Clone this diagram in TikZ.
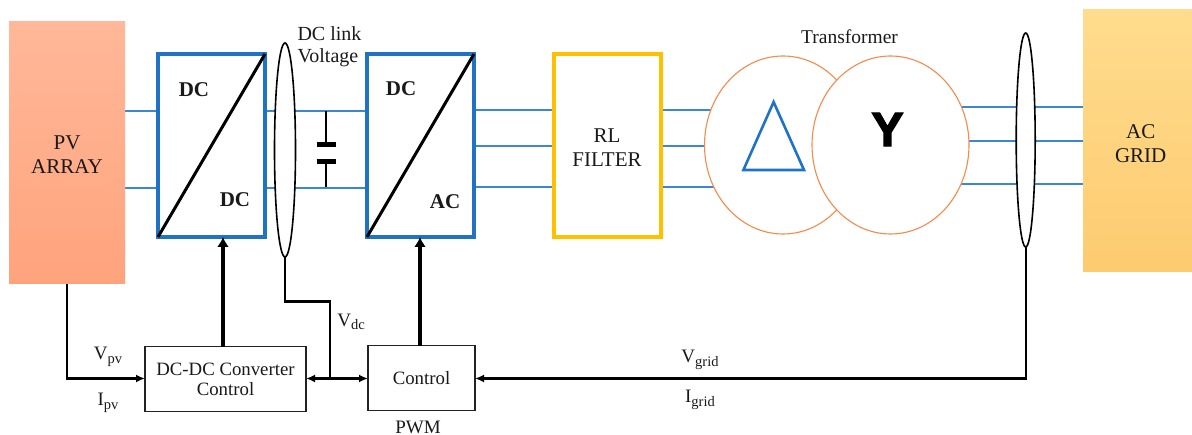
\documentclass[tikz,border=0pt]{standalone}
\usepackage{fontspec}
\setmainfont{Liberation Serif}
\newfontfamily\sansbold{Liberation Sans}[Scale=1]
\usetikzlibrary{shapes.geometric,arrows.meta,backgrounds}
\definecolor{pvtop}{HTML}{FFB899}
\definecolor{pvbot}{HTML}{FFA37C}
\definecolor{gridtop}{HTML}{FFDC8E}
\definecolor{gridbot}{HTML}{FDCB70}
\definecolor{bluebox}{HTML}{1F72C4}
\definecolor{blueline}{HTML}{3C88D0}
\definecolor{filterc}{HTML}{FFC000}
\definecolor{transc}{HTML}{F58A4B}
\definecolor{boxline}{HTML}{222222}
\newcommand{\fs}[1]{\fontsize{#1}{#1}\selectfont}
\newcommand{\subt}[1]{\raisebox{-3.5pt}{\fs{14.5}#1}}
\tikzset{
  x=1pt,y=-1pt,
  base/.style={inner sep=0pt,outer sep=0pt,align=center,text=black!90},
  label19/.style={base,font=\fs{19}},
  label21/.style={base,font=\fs{21}},
  tag/.style={base,font=\fs{21}\bfseries},
  source/.style={base,font=\fs{21},minimum width=#1},
  conv/.style={base,draw=bluebox,line width=3.5pt,fill=white,minimum width=107pt,minimum height=183pt},
  filterbox/.style={base,draw=filterc,line width=3.5pt,fill=white,minimum width=107pt,minimum height=183pt},
  ctrl/.style={base,draw=boxline,line width=1.2pt,fill=white,font=\fs{18.8}},
  lens/.style={base,ellipse,draw=black,line width=1.6pt,fill=white},
  winding/.style={base,ellipse,draw=transc,line width=1.1pt,fill=white,minimum width=157pt,minimum height=178pt},
  phase/.style={blueline,line width=1.7pt},
  diag/.style={black,line width=3pt},
  sense/.style={black,line width=2.4pt},
  tip/.style={-{Latex[length=9pt,width=8pt]}},
  drive/.style={black,line width=4pt,-{Latex[length=10pt,width=12pt]}},
  plate/.style={black,line width=5pt},
  wire/.style={black,line width=1.5pt}
}
\begin{document}
\begin{tikzpicture}
\useasboundingbox (0,0) rectangle (1192,435);
% sources
\node[source=116pt,minimum height=262pt,top color=pvtop,bottom color=pvbot] (pvbox) at (67,153) {};
\node[label21] (pvtext) at (67,154.5) {PV\\[3pt]ARRAY};
\node[source=109pt,minimum height=262pt,top color=gridtop,bottom color=gridbot] (grid) at (1137.5,141) {};
\node[label21] (gridtext) at (1140.7,143.5) {AC\\[3pt]GRID};
% converters
\node[conv] (dcdc) at (211.5,145.5) {};
\node[conv] (dcac) at (420.5,145.5) {};
\node[filterbox] (filter) at (607.5,145.5) {};
\node[label21] (filtertext) at (607,148) {RL\\[3pt]FILTER};
\node[tag] (t1) at (194,90) {DC};
\node[tag] (t2) at (235,200) {DC};
\node[tag] (t3) at (401,89) {DC};
\node[tag] (t4) at (445,202) {AC};
\draw[diag] (dcdc.south west) -- (dcdc.north east);
\draw[diag] (dcac.south west) -- (dcac.north east);
% sensing ellipses
\node[lens,minimum width=21pt,minimum height=214pt] (lensdc) at (285,150) {};
\node[lens,minimum width=19pt,minimum height=214pt] (lensac) at (1025.7,140) {};
\node[base,font=\fs{20},anchor=west,align=left] (dclink) at (297.5,46.5) {DC link\\[2pt]Voltage};
% transformer
\node[winding] (tl) at (783,145) {};
\node[winding] (tr) at (890.5,145) {};
\node[base,font=\fs{19.5}] (trtext) at (849.5,36.5) {Transformer};
\coordinate (triA) at (773.6,102);
\coordinate (triB) at (743.4,170);
\coordinate (triC) at (804,170);
\draw[bluebox,line width=2.6pt,line join=miter] (triA) -- (triB) -- (triC) -- cycle;
\node[base,font=\sansbold\bfseries\fs{48},text=black,preaction={}] (ywye) at (887.5,129.5) {\special{pdf:literal direct 2 Tr 1.4 w}Y\special{pdf:literal direct 0 Tr}};
% capacitor
\coordinate (captop) at (326,111);
\coordinate (capbot) at (326,187.5);
\coordinate (plate1) at (326,145);
\coordinate (plate2) at (326,162);
\draw[wire] (captop) -- (plate1);
\draw[wire] (capbot) -- (plate2);
\draw[plate] ([xshift=-9.5pt]plate1) -- ([xshift=9.5pt]plate1);
\draw[plate] ([xshift=-9.5pt]plate2) -- ([xshift=9.5pt]plate2);
% phase lines behind everything
\begin{scope}[on background layer]
\foreach \yy in {111,188}{
  \draw[phase] (pvbox.east|-0,\yy) -- (dcdc.west|-0,\yy);
  \draw[phase] (dcdc.east|-0,\yy) -- (dcac.west|-0,\yy);
}
\foreach \yy in {110,146,187}{
  \draw[phase] (dcac.east|-0,\yy) -- (filter.west|-0,\yy);
  \draw[phase] (filter.east|-0,\yy) -- (tl.center|-0,\yy);
}
\foreach \yy in {107,141,184}{
  \draw[phase] (tr.center|-0,\yy) -- (grid.west|-0,\yy);
}
\end{scope}
% control
\node[ctrl,minimum width=161pt,minimum height=64.5pt] (dcctrl) at (225.5,379) {DC-DC Converter\\[1pt]Control};
\node[ctrl,minimum width=107pt,minimum height=64.5pt] (pwmctrl) at (421.5,378) {Control};
\node[label19] (pwm) at (418,427) {PWM};
\draw[drive] (dcctrl.north-|223,0) -- (dcdc.south-|223,0);
\draw[drive] (pwmctrl.north-|420,0) -- (dcac.south-|420,0);
\coordinate (pvcorner) at (66.7,378.5);
\coordinate (vdcbend1) at (285,301.7);
\coordinate (vdcbend2) at (330,301.7);
\coordinate (vdcjoin) at (330,378.5);
\coordinate (gridcorner) at (1025.7,378.5);
\draw[sense,tip,line join=miter] (pvbox.south-|pvcorner) -- (pvcorner) -- (dcctrl.west|-pvcorner);
\draw[sense,line join=miter] (lensdc.south) -- (vdcbend1) -- (vdcbend2) -- (vdcjoin);
\draw[sense,tip] (vdcjoin) -- (dcctrl.east|-vdcjoin);
\draw[sense,tip] (vdcjoin) -- (pwmctrl.west|-vdcjoin);
\draw[sense,tip,line join=miter] (lensac.south) -- (gridcorner) -- (pwmctrl.east|-gridcorner);
% signal labels
\node[label19] (vpv) at (108,357) {V\subt{pv}};
\node[label19] (ipv) at (108,403) {I\subt{pv}};
\node[label19] (vdc) at (351,322) {V\subt{dc}};
\node[label19] (vgrid) at (700,360) {V\subt{grid}};
\node[label19] (igrid) at (700,400) {I\subt{grid}};
\end{tikzpicture}
\end{document}
